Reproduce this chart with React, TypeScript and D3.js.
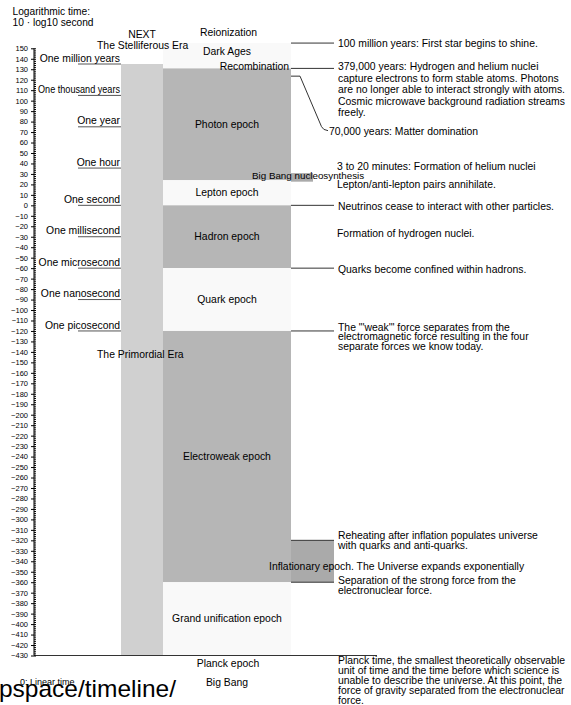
import React, { useEffect, useRef } from "react";
import * as d3 from "d3";

// ---- data ----
const yDomain = [-430, 150];
const tickValues = d3.range(-430, 151, 10);
const minorTickValues = d3.range(-430, 151, 2);

const epochNames = ["Dark Ages", "Photon epoch", "Lepton epoch", "Hadron epoch", "Quark epoch", "Electroweak epoch", "Grand unification epoch"];
const epochTop = [155, 130.8, 24, 0, -60, -120, -360];
const epochBottom = [130.8, 24, 0, -60, -120, -360, -430];
const epochDark = [false, true, false, true, false, true, false];

const eraTop = 135;
const eraBottom = -430;

const markerLabels = ["One million years", "One thousand years", "One year", "One hour", "One second", "One millisecond", "One microsecond", "One nanosecond", "One picosecond"];
const markerValues = [135, 105, 75, 35.6, 0, -30, -60, -90, -120];

const inflationTop = -320;
const inflationBottom = -360;
const nucleoTop = 30.8;
const nucleoBottom = 22.6;
const matterValue = 123.4;

const annotationValues = [155, 130.8, 0, -60, -120, -320, -360, -430];
const annotationTexts = [
  ["100 million years: First star begins to shine."],
  ["379,000 years: Hydrogen and helium nuclei", "capture electrons to form stable atoms. Photons", "are no longer able to interact strongly with atoms.", "Cosmic microwave background radiation streams", "freely."],
  ["Neutrinos cease to interact with other particles."],
  ["Quarks become confined within hadrons."],
  ["The \"'weak'\" force separates from the", "electromagnetic force resulting in the four", "separate forces we know today."],
  ["Reheating after inflation populates universe", "with quarks and anti-quarks."],
  ["Separation of the strong force from the", "electronuclear force."],
  ["Planck time, the smallest theoretically observable", "unit of time and the time before which science is", "unable to describe the universe. At this point, the", "force of gravity separated from the electronuclear", "force."],
];
const noteValues = [36.9, 20.3, -26.7];
const noteTexts = ["3 to 20 minutes: Formation of helium nuclei", "Lepton/anti-lepton pairs annihilate.", "Formation of hydrogen nuclei."];

// ---- layout ----
const W = 571, H = 705;
const FONT = "Liberation Sans, Arial, sans-serif";
const FS = 10.4;
const axisX = 34;
const eraX0 = 121, eraX1 = 163;
const colX0 = 163, colX1 = 291;
const leadEnd = 334;
const textX = 338;
const markerMinX = 38;
const annOffset = [0, -2, 1.4, 1, -4, -5, -2, 5];
const annSpacing = [11, 11.6, 11, 11, 9.6, 10, 10, 10];

export default function App() {
  const axisRef = useRef(null);
  const markerRef = useRef(null);
  const y = d3.scaleLinear().domain(yDomain).range([655.5, 48.3]);

  useEffect(() => {
    const g = d3.select(axisRef.current);
    g.selectAll("*").remove();
    const major = d3.axisLeft(y).tickValues(tickValues).tickSize(3).tickPadding(3).tickFormat(d3.format("d"));
    g.append("g").call(major)
      .call((s) => s.select(".domain").remove())
      .call((s) => s.selectAll("text").attr("font-size", 7.5).attr("font-family", FONT).attr("fill", "#000"))
      .call((s) => s.selectAll("line").attr("stroke", "#000"));
    const minor = d3.axisRight(y).tickValues(minorTickValues).tickSize(2).tickFormat(() => "");
    g.append("g").call(minor)
      .call((s) => s.select(".domain").remove())
      .call((s) => s.selectAll("line").attr("stroke", "#000"));
    g.append("line").attr("x1", 0).attr("x2", 0).attr("y1", y(150)).attr("y2", y(-430)).attr("stroke", "#000");

    const maxW = eraX0 - 1 - markerMinX;
    d3.select(markerRef.current).selectAll("text.marker").each(function () {
      const el = this as SVGTextElement;
      if (el.getComputedTextLength() > maxW) {
        d3.select(el).attr("textLength", maxW).attr("lengthAdjust", "spacingAndGlyphs");
      }
    });
  }, []);

  const yM = y(matterValue);

  return (
    <svg width={W} height={H} style={{ position: "absolute", left: 0, top: 0, background: "#fff" }} fontFamily={FONT}>
      <text x={12.5} y={11} dy="0.35em" fontSize={10.2}>Logarithmic time:</text>
      <text x={12.5} y={22} dy="0.35em" fontSize={10.2}>10 · log10 second</text>

      {/* era column */}
      <rect x={eraX0} y={y(eraTop)} width={eraX1 - eraX0} height={y(eraBottom) - y(eraTop)} fill="#d0d0d0" />

      {/* epochs */}
      {epochNames.map((n, i) => (
        <rect key={n} x={colX0} y={y(epochTop[i])} width={colX1 - colX0} height={y(epochBottom[i]) - y(epochTop[i])} fill={epochDark[i] ? "#b6b6b6" : "#f9f9f9"} />
      ))}
      {/* inflation box */}
      <rect x={colX1} y={y(inflationTop)} width={leadEnd - colX1} height={y(inflationBottom) - y(inflationTop)} fill="#aaaaaa" />
      {/* nucleosynthesis box */}
      <rect x={colX1} y={y(nucleoTop)} width={22} height={y(nucleoBottom) - y(nucleoTop)} fill="#aaaaaa" />

      {epochNames.map((n, i) => {
        if (i === 0) return null;
        const top = y(epochTop[i]);
        const bot = y(epochBottom[i]);
        return (
          <text key={n} x={(colX0 + colX1) / 2} y={(top + bot) / 2} dy="0.35em" fontSize={FS} textAnchor="middle">{n}</text>
        );
      })}
      <text x={227} y={51.7} dy="0.35em" fontSize={FS} textAnchor="middle">Dark Ages</text>
      <text x={228.5} y={32.5} dy="0.35em" fontSize={FS} textAnchor="middle">Reionization</text>
      <text x={289} y={66.5} dy="0.35em" fontSize={FS} textAnchor="end">Recombination</text>
      <text x={252} y={175.5} dy="0.35em" fontSize={9.8}>Big Bang nucleosynthesis</text>
      <text x={269} y={566.7} dy="0.35em" fontSize={FS}>Inflationary epoch. The Universe expands exponentially</text>
      <text x={228} y={663.3} dy="0.35em" fontSize={FS} textAnchor="middle">Planck epoch</text>
      <text x={227} y={682} dy="0.35em" fontSize={FS} textAnchor="middle">Big Bang</text>

      {/* eras */}
      <text x={142} y={34.5} dy="0.35em" fontSize={FS} textAnchor="middle">NEXT</text>
      <text x={97} y={45.5} dy="0.35em" fontSize={FS}>The Stelliferous Era</text>
      <text x={97} y={354.5} dy="0.35em" fontSize={FS}>The Primordial Era</text>

      {/* time markers */}
      <g ref={markerRef}>
        {markerLabels.map((m, i) => (
          <g key={m}>
            <line x1={78} x2={eraX0} y1={y(markerValues[i])} y2={y(markerValues[i])} stroke="#555" strokeWidth={1} />
            <text className="marker" x={eraX0 - 1} y={y(markerValues[i]) - 6} dy="0.35em" fontSize={FS} textAnchor="end">{m}</text>
          </g>
        ))}
      </g>

      {/* annotations with leaders */}
      {annotationValues.map((v, i) => (
        <g key={i}>
          <line x1={i === annotationValues.length - 1 ? axisX : colX1} x2={i === annotationValues.length - 1 ? 377 : leadEnd} y1={y(v)} y2={y(v)} stroke="#333" strokeWidth={1} />
          {annotationTexts[i].map((t, j) => (
            <text key={j} x={textX} y={y(v) + annOffset[i] + j * annSpacing[i]} dy="0.35em" fontSize={FS}>{t}</text>
          ))}
        </g>
      ))}
      {noteTexts.map((t, i) => (
        <text key={t} x={textX - 1} y={y(noteValues[i])} dy="0.35em" fontSize={FS}>{t}</text>
      ))}

      {/* matter domination leader */}
      <path d={`M${colX1},${yM} L300,${yM} L321.5,${yM + 50.5} Q323,${yM + 54} 328,${yM + 54.5}`} fill="none" stroke="#333" strokeWidth={1} />
      <text x={329} y={yM + 55} dy="0.35em" fontSize={FS}>70,000 years: Matter domination</text>

      <g ref={axisRef} transform={`translate(${axisX},0)`} />

      <text x={20} y={682} dy="0.35em" fontSize={9}>0: Linear time</text>
      <text x={176} y={697} fontSize={24.5} textAnchor="end">pspace/timeline/</text>
    </svg>
  );
}
